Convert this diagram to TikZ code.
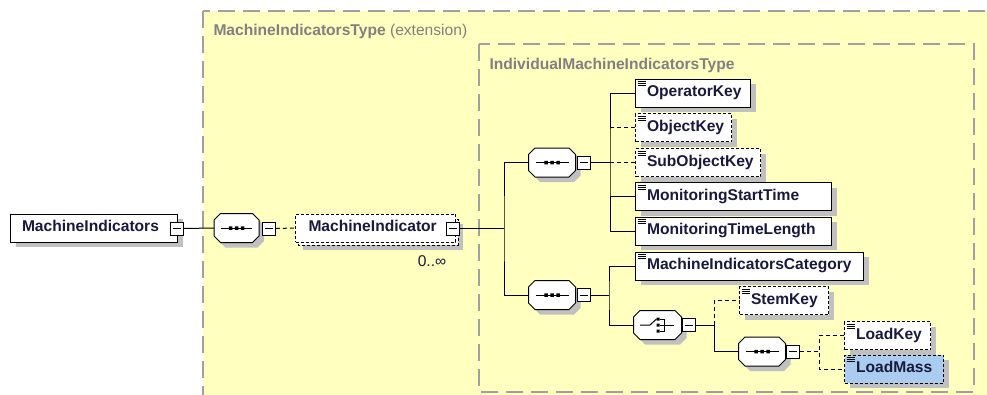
\documentclass[tikz,border=0pt]{standalone}
\usepackage{fontspec}
\setmainfont{Liberation Sans}
\usetikzlibrary{shadows}
\definecolor{bgy}{RGB}{255,255,192}
\definecolor{frame}{RGB}{160,160,160}
\definecolor{ttl}{RGB}{128,128,128}
\definecolor{txt}{RGB}{25,25,60}
\definecolor{shd}{RGB}{192,192,192}
\definecolor{selb}{RGB}{170,204,238}
\newcommand\tx[2]{\makebox[#1][l]{\rule[-4pt]{0pt}{15.2pt}\hspace{11.5pt}#2}}
\newcommand\octnode[1]{%
\fill[shd] ([shift={(11.5pt,-5pt)}]#1.north west) -- ([shift={(-1.5pt,-5pt)}]#1.north east) -- ([shift={(5pt,-11.5pt)}]#1.north east) -- ([shift={(5pt,1.5pt)}]#1.south east) -- ([shift={(-1.5pt,-5pt)}]#1.south east) -- ([shift={(11.5pt,-5pt)}]#1.south west) -- ([shift={(5pt,1.5pt)}]#1.south west) -- ([shift={(5pt,-11.5pt)}]#1.north west) -- cycle;
\filldraw[fill=white,draw=black] ([xshift=6.5pt]#1.north west) -- ([xshift=-6.5pt]#1.north east) -- ([yshift=-6.5pt]#1.north east) -- ([yshift=6.5pt]#1.south east) -- ([xshift=-6.5pt]#1.south east) -- ([xshift=6.5pt]#1.south west) -- ([yshift=6.5pt]#1.south west) -- ([yshift=-6.5pt]#1.north west) -- cycle;}
\newcommand\seqsym[1]{%
\draw ([xshift=7pt]#1.west) -- ([xshift=-7pt]#1.east);
\fill ([shift={(-7.75pt,-1.75pt)}]#1.center) rectangle ++(3.5pt,3.5pt)
      ([shift={(-1.75pt,-1.75pt)}]#1.center) rectangle ++(3.5pt,3.5pt)
      ([shift={(4.25pt,-1.75pt)}]#1.center) rectangle ++(3.5pt,3.5pt);}
\newcommand\chsym[1]{%
\draw ([xshift=-17.5pt]#1.center) -- ([xshift=-7.5pt]#1.center) -- ([shift={(-1pt,6pt)}]#1.center);
\fill ([shift={(-1pt,4.5pt)}]#1.center) rectangle ++(3pt,3pt)
      ([shift={(-1pt,-1.5pt)}]#1.center) rectangle ++(3pt,3pt)
      ([shift={(-1pt,-7.5pt)}]#1.center) rectangle ++(3pt,3pt);
\draw ([shift={(2pt,6pt)}]#1.center) -- ([shift={(7pt,6pt)}]#1.center) -- ([shift={(7pt,-6pt)}]#1.center) -- ([shift={(2pt,-6pt)}]#1.center);
\draw ([shift={(2pt,0pt)}]#1.center) -- ([shift={(16pt,0pt)}]#1.center);}
\newcommand\icon[1]{%
\draw[line width=0.6pt] ([shift={(2.5pt,-3pt)}]#1.north west) -- ++(8pt,0pt)
  ([shift={(2.5pt,-5pt)}]#1.north west) -- ++(8pt,0pt)
  ([shift={(2.5pt,-7pt)}]#1.north west) -- ++(8pt,0pt);}
\begin{document}
\begin{tikzpicture}[x=1pt,y=-1pt,line width=1pt,
  ebase/.style={draw=black, fill=white, minimum height=28pt, inner sep=0pt, anchor=west,
    font=\fontsize{15.6}{18}\selectfont\bfseries, text=txt},
  elem/.style={ebase, drop shadow={shadow xshift=5pt, shadow yshift=-5pt, fill=shd, opacity=1}},
  opt/.style={elem, dash pattern=on 3pt off 2pt},
  oct/.style={rectangle, minimum height=28pt, inner sep=0pt},
  mns/.style={draw=black, fill=white, minimum size=13pt, inner sep=0pt, line width=0.8pt,
    path picture={\draw[line width=0.8pt] ([xshift=2.5pt]path picture bounding box.west) -- ([xshift=-2.5pt]path picture bounding box.east);}},
  frm/.style={draw=frame, fill=bgy, line width=1.3pt, dash pattern=on 17pt off 8pt},
  dcon/.style={dash pattern=on 4pt off 3pt},
  ttlf/.style={anchor=base west, inner sep=0pt, text=ttl, font=\fontsize{15.6}{18}\selectfont}]
\path[use as bounding box] (0,0) rectangle (987,394);
\clip (0,0) rectangle (987,394);
\fill[white] (0,0) rectangle (987,394);
% frames
\path[frm] (203,11) rectangle (1010,420);
\node[ttlf] (t1) at (213,35) {\textbf{MachineIndicatorsType} (extension)};
\path[frm] (479,44) rectangle (974,392);
\node[ttlf] (t2) at (489,69) {\textbf{IndividualMachineIndicatorsType}};
% root
\node[elem] (mi) at (10,228) {\tx{167pt}{MachineIndicators}};
\node[mns] (m0) at (176.5,228.5) {};
% sequence 1
\node[oct, minimum width=44pt] (s1) at (236.5,228) {};
\octnode{s1}\seqsym{s1}
\node[mns] (m1) at (269,228.5) {};
% MachineIndicator (repeated)
\fill[shd] (303,224) rectangle (463,250);
\draw[fill=white, dash pattern=on 3pt off 2pt] (298,219) rectangle (458,245);
\node[ebase, dash pattern=on 3pt off 2pt] (mind) at (295,228) {\makebox[160pt][l]{\rule[-4pt]{0pt}{15.2pt}\hspace{13pt}MachineIndicator}};
\node[mns] (m2) at (453,228.5) {};
\node[inner sep=0pt, text=txt, font=\fontsize{15.6}{18}\selectfont] (occ) at (432,261) {0..∞};
% sequence 2
\node[oct, minimum width=46pt] (s2) at (552,162.5) {};
\octnode{s2}\seqsym{s2}
\node[mns] (m3) at (583.5,162.5) {};
% sequence 3
\node[oct, minimum width=46pt] (s3) at (552,295) {};
\octnode{s3}\seqsym{s3}
\node[mns] (m4) at (583.5,295) {};
% elements of sequence 2
\node[elem] (opk) at (635,93) {\tx{115pt}{OperatorKey}}; \icon{opk}
\node[opt] (objk) at (635,127.5) {\tx{96pt}{ObjectKey}}; \icon{objk}
\node[opt] (subk) at (635,162.5) {\tx{125pt}{SubObjectKey}}; \icon{subk}
\node[elem] (mst) at (635,196.5) {\tx{196pt}{MonitoringStartTime}}; \icon{mst}
\node[elem] (mtl) at (635,231) {\tx{196pt}{MonitoringTimeLength}}; \icon{mtl}
% elements of sequence 3
\node[elem] (mcat) at (635,266) {\tx{228pt}{MachineIndicatorsCategory}}; \icon{mcat}
\node[oct, minimum width=47pt] (ch) at (657.5,325) {};
\octnode{ch}\chsym{ch}
\node[mns] (m5) at (688.5,325) {};
\node[opt] (stem) at (739,300.5) {\tx{89pt}{StemKey}}; \icon{stem}
\node[oct, minimum width=46pt] (s4) at (762,351.5) {};
\octnode{s4}\seqsym{s4}
\node[mns] (m6) at (793,351.5) {};
\node[opt] (lk) at (844,335.5) {\tx{86pt}{LoadKey}}; \icon{lk}
\node[opt, fill=selb] (lm) at (844,369) {\tx{99pt}{LoadMass}}; \icon{lm}
% junctions
\coordinate (j1) at (504,228.5);
\coordinate (j2) at (610,162.5);
\coordinate (j3) at (609,295);
\coordinate (j4) at (714,325);
\coordinate (j5) at (819,351.5);
% connectors
\draw (m0.east) -- (s1.west);
\draw[dcon] (m1.east) -- (mind.west);
\draw (m2.east) -- (j1);
\draw (s2.west) -| (j1) |- (s3.west);
\draw (m3.east) -- (j2);
\draw (opk.west) -| (j2) |- (mtl.west);
\draw (mst.west) -- (mst.west -| j2);
\draw[dcon] (objk.west) -- (objk.west -| j2);
\draw[dcon] (subk.west) -- (j2);
\draw (m4.east) -- (j3);
\draw (mcat.west) -| (j3) |- (ch.west);
\draw (m5.east) -- (j4);
\draw[dcon] (j4) |- (stem.west);
\draw (j4) |- (s4.west);
\draw[dcon] (m6.east) -- (j5);
\draw[dcon] (lk.west) -| (j5) |- (lm.west);
\end{tikzpicture}
\end{document}
